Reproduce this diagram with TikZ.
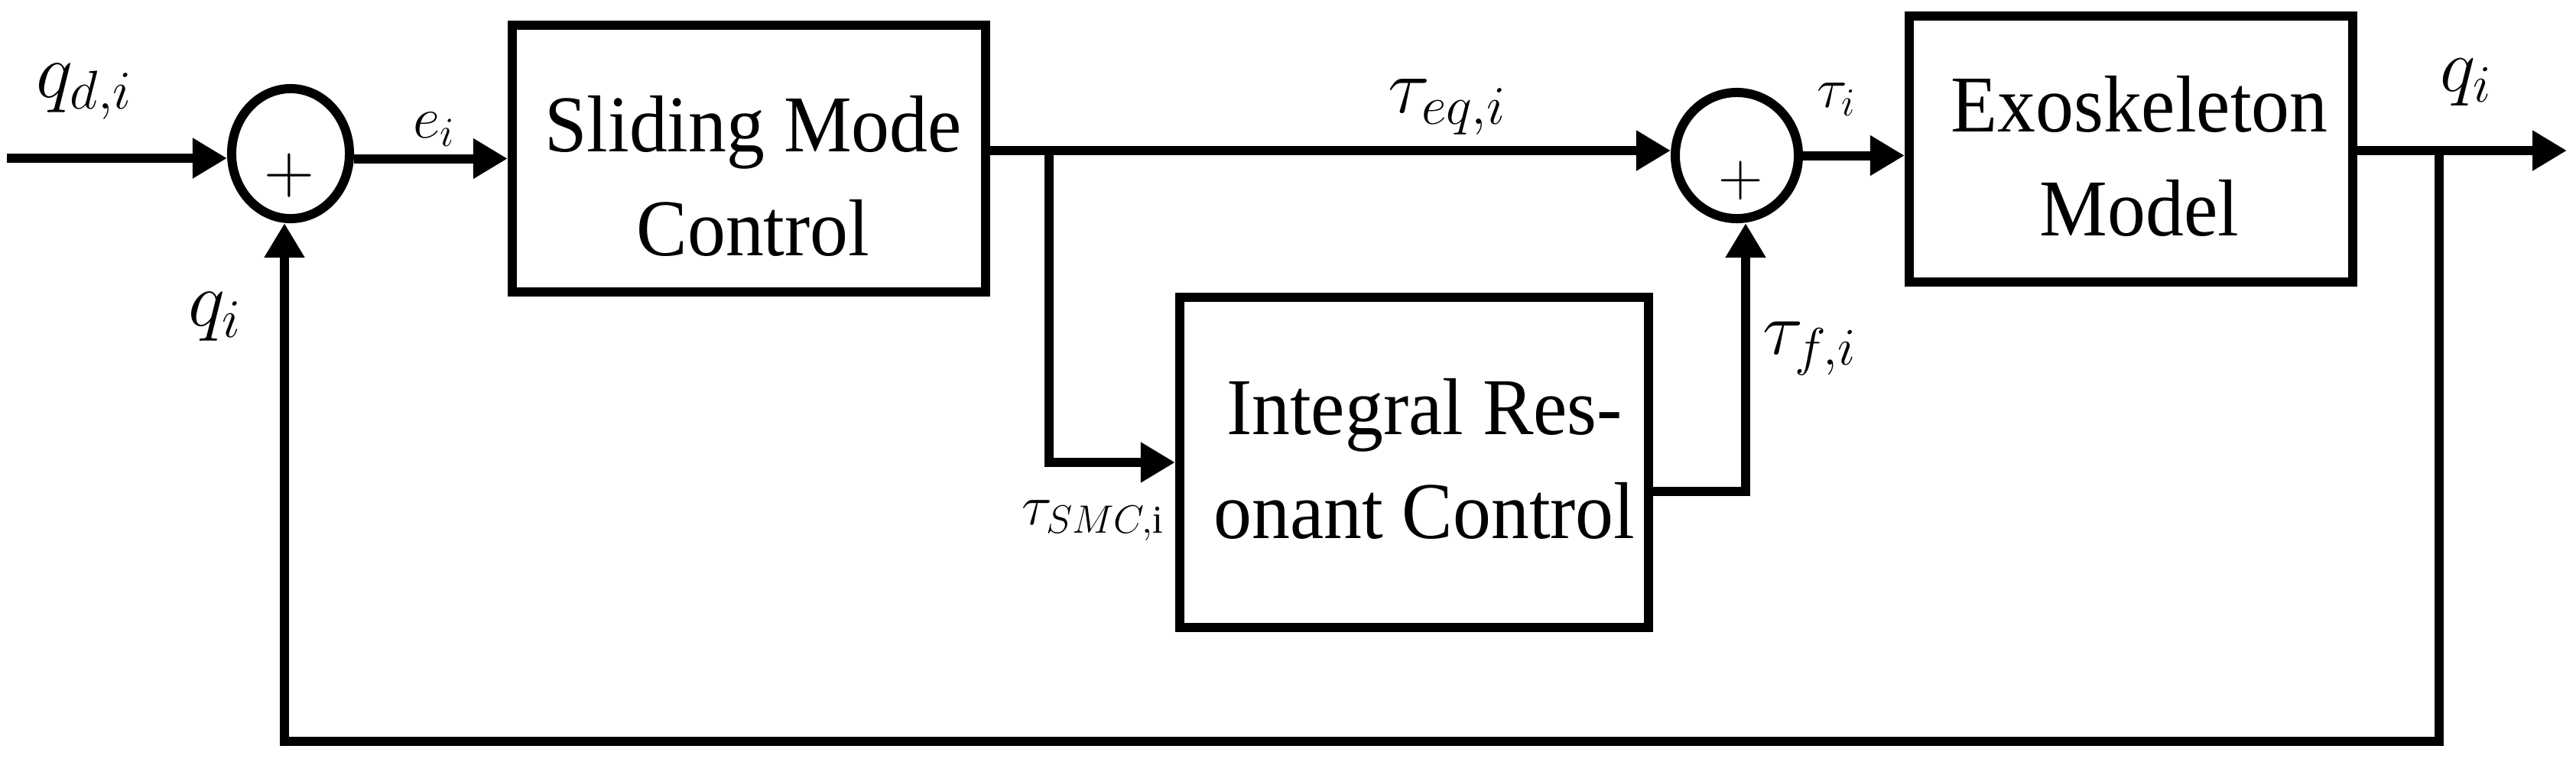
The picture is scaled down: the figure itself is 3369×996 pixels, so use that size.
\RequirePackage{fix-cm}
\documentclass[tikz,border=0pt]{standalone}
\usepackage{fontspec}
\setmainfont{Liberation Serif}[FakeStretch=0.945]
\usetikzlibrary{arrows.meta,shapes.geometric}
\tikzset{
  ln/.style={line width=0.12cm},
  arr/.style={ln,-{Triangle[length=0.45cm,width=0.5cm]}},
  blk/.style={draw,line width=0.12cm,inner sep=0pt},
  sumnode/.style={ellipse,draw,line width=0.12cm,inner sep=0pt},
  boxtxt/.style={font=\fontsize{30}{38.7}\selectfont,align=center,inner sep=0pt},
  plus/.style={inner sep=0pt},
  lbl/.style={inner sep=0pt,anchor=base west}
}
\begin{document}
\begin{tikzpicture}[x=0.01cm,y=-0.01cm]
\useasboundingbox (0,0) rectangle (3369,996);
% blocks
\node[blk,minimum width=6.19cm,minimum height=3.49cm] (smc) at (979.5,207.5) {};
\node[boxtxt] (smct) at (985,230) {Sliding Mode\\Control};
\node[blk,minimum width=5.80cm,minimum height=3.48cm] (exo) at (2787,195) {};
\node[boxtxt] (exot) at (2798,204) {Exoskeleton\\Model};
\node[blk,minimum width=6.13cm,minimum height=4.32cm] (irc) at (1849.5,605) {};
\node[boxtxt] (irct) at (1863,600) {Integral Res-\\onant Control};
% summing junctions
\node[sumnode,minimum width=1.54cm,minimum height=1.70cm] (s1) at (380,201) {};
\node[plus,font=\fontsize{26}{26}\selectfont] (p1) at (378,230) {$+$};
\node[sumnode,minimum width=1.61cm,minimum height=1.65cm] (s2) at (2271.5,203.5) {};
\node[plus,font=\fontsize{23}{23}\selectfont] (p2) at (2277,236) {$+$};
% coordinates
\coordinate (in) at (9,207);
\coordinate (br) at (1372,197);
\coordinate (fc) at (2283,643);
\coordinate (out) at (3357,197);
\coordinate (fb) at (3190,197);
\coordinate (fbl) at (372,970);
% connectors
\draw[arr] (in) -- (in -| s1.west);
\draw[arr] (s1.east |- smc.west) -- (smc.west);
\draw[arr] (smc.east |- br) -- (br -| s2.west);
\draw[arr] (br) |- (irc.west);
\draw[arr] (irc.east |- fc) -- (fc) -- (fc |- s2.south);
\draw[arr] (s2.east) -- (exo.west |- s2.east);
\draw[arr] (exo.east |- out) -- (out);
\draw[arr] (fb) |- (fbl) -- (fbl |- s1.south);
% labels
\node[lbl,font=\fontsize{29}{29}\selectfont] (lqd) at (47,127) {$q_{d,i}$};
\node[lbl,font=\fontsize{22}{22}\selectfont] (le) at (540,180) {$e_i$};
\node[lbl,font=\fontsize{29}{29}\selectfont] (lteq) at (1815,147) {$\tau_{eq,i}$};
\node[lbl,font=\fontsize{21}{21}\selectfont] (lti) at (2376,140) {$\tau_i$};
\node[lbl,font=\fontsize{28}{28}\selectfont] (lqo) at (3191,119) {$q_i$};
\node[lbl,font=\fontsize{29}{29}\selectfont] (lqf) at (246,426) {$q_i$};
\node[lbl,font=\fontsize{21}{21}\selectfont] (lts) at (1336,686) {$\tau_{SMC,\mathrm{i}}$};
\node[lbl,font=\fontsize{28}{28}\selectfont] (ltf) at (2305,463) {$\tau_{f,i}$};
\end{tikzpicture}
\end{document}
